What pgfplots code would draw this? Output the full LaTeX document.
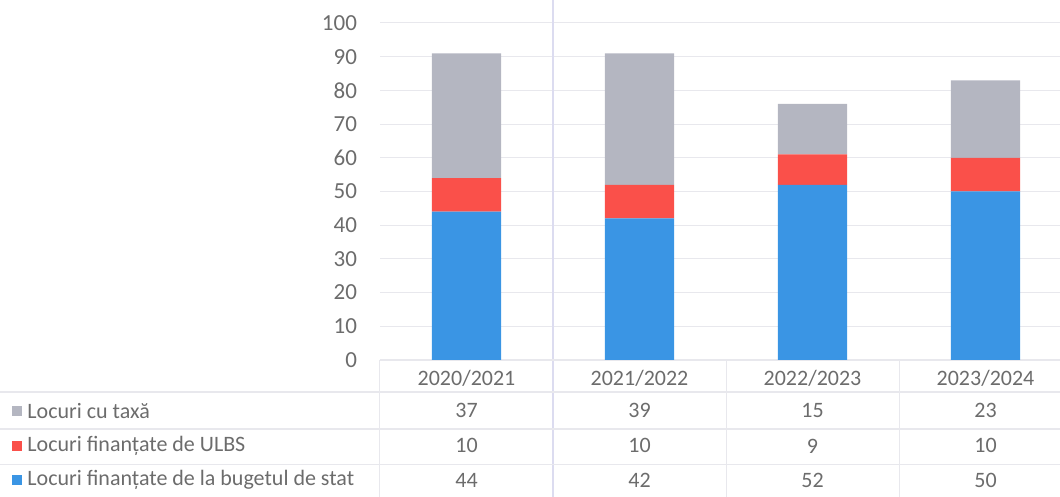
\documentclass[border=0pt]{standalone}
\usepackage{pgfplots}
\pgfplotsset{compat=1.18}
\usepackage{fontspec}
\setmainfont{Carlito}
\definecolor{cgray}{RGB}{180,182,193}
\definecolor{cred}{RGB}{250,80,74}
\definecolor{cblue}{RGB}{58,149,228}
\definecolor{ctext}{RGB}{108,108,108}
\definecolor{cline}{RGB}{232,232,237}
\definecolor{cfold}{RGB}{220,220,240}
\tikzset{tnode/.style={text=ctext, font=\fontsize{11}{13}\selectfont}}
\begin{document}
\begin{tikzpicture}[x=1pt,y=1pt]
\path[use as bounding box] (0,0) rectangle (530,248.5);
\begin{axis}[
  at={(190pt,68.5pt)}, anchor=south west,
  scale only axis, width=346pt, height=168.5pt,
  xmin=-0.5, xmax=3.5, ymin=0, ymax=100,
  ytick={0,10,...,100}, xtick=\empty,
  axis line style={draw=none},
  major tick length=0pt,
  ymajorgrids, grid style={color=cline, line width=0.5pt},
  yticklabel style={font=\fontsize{11.5}{13}\selectfont, text=ctext, xshift=-8pt},
  /pgf/number format/assume math mode=true,
  ybar stacked, bar width=0.4,
  clip=false,
]
\addplot[fill=cblue, draw=none] coordinates {(0,44) (1,42) (2,52) (3,50)};
\addplot[fill=cred, draw=none] coordinates {(0,10) (1,10) (2,9) (3,10)};
\addplot[fill=cgray, draw=none] coordinates {(0,37) (1,39) (2,15) (3,23)};
% data table borders
\draw[cline, line width=0.6pt] (axis cs:-0.5,0) -- (axis cs:3.5,0);
\draw[cline, line width=0.6pt] (axis cs:-2.7,-9.5) -- (axis cs:3.5,-9.5);
\draw[cline, line width=0.6pt] (axis cs:-2.7,-20.5) -- (axis cs:3.5,-20.5);
\draw[cline, line width=0.6pt] (axis cs:-2.7,-30.9) -- (axis cs:3.5,-30.9);
\draw[cline, line width=0.5pt] (axis cs:-0.5,0) -- (axis cs:-0.5,-41);
\draw[cline, line width=0.5pt] (axis cs:1.5,0) -- (axis cs:1.5,-41);
\draw[cline, line width=0.5pt] (axis cs:2.5,0) -- (axis cs:2.5,-41);
\draw[cfold, line width=0.6pt] (axis cs:0.5,-41) -- (axis cs:0.5,107);
% header
\node[tnode] at (axis cs:0,-5.3) {2020/2021};
\node[tnode] at (axis cs:1,-5.3) {2021/2022};
\node[tnode] at (axis cs:2,-5.3) {2022/2023};
\node[tnode] at (axis cs:3,-5.3) {2023/2024};
% rows
\node[fill=cgray, minimum size=5pt, inner sep=0pt] at (axis cs:-2.598,-15.1) {};
\node[fill=cred, minimum size=5pt, inner sep=0pt] at (axis cs:-2.598,-25.5) {};
\node[fill=cblue, minimum size=5pt, inner sep=0pt] at (axis cs:-2.598,-35.6) {};
\node[tnode, anchor=west, inner sep=0pt] at (axis cs:-2.54,-15.1) {Locuri cu taxă};
\node[tnode, anchor=west, inner sep=0pt] at (axis cs:-2.54,-25.5) {Locuri finanțate de ULBS};
\node[tnode, anchor=west, inner sep=0pt] at (axis cs:-2.54,-35.6) {Locuri finanțate de la bugetul de stat};
\node[tnode] at (axis cs:0,-15.1) {37};
\node[tnode] at (axis cs:1,-15.1) {39};
\node[tnode] at (axis cs:2,-15.1) {15};
\node[tnode] at (axis cs:3,-15.1) {23};
\node[tnode] at (axis cs:0,-25.5) {10};
\node[tnode] at (axis cs:1,-25.5) {10};
\node[tnode] at (axis cs:2,-25.5) {9};
\node[tnode] at (axis cs:3,-25.5) {10};
\node[tnode] at (axis cs:0,-35.6) {44};
\node[tnode] at (axis cs:1,-35.6) {42};
\node[tnode] at (axis cs:2,-35.6) {52};
\node[tnode] at (axis cs:3,-35.6) {50};
\end{axis}
\end{tikzpicture}
\end{document}
